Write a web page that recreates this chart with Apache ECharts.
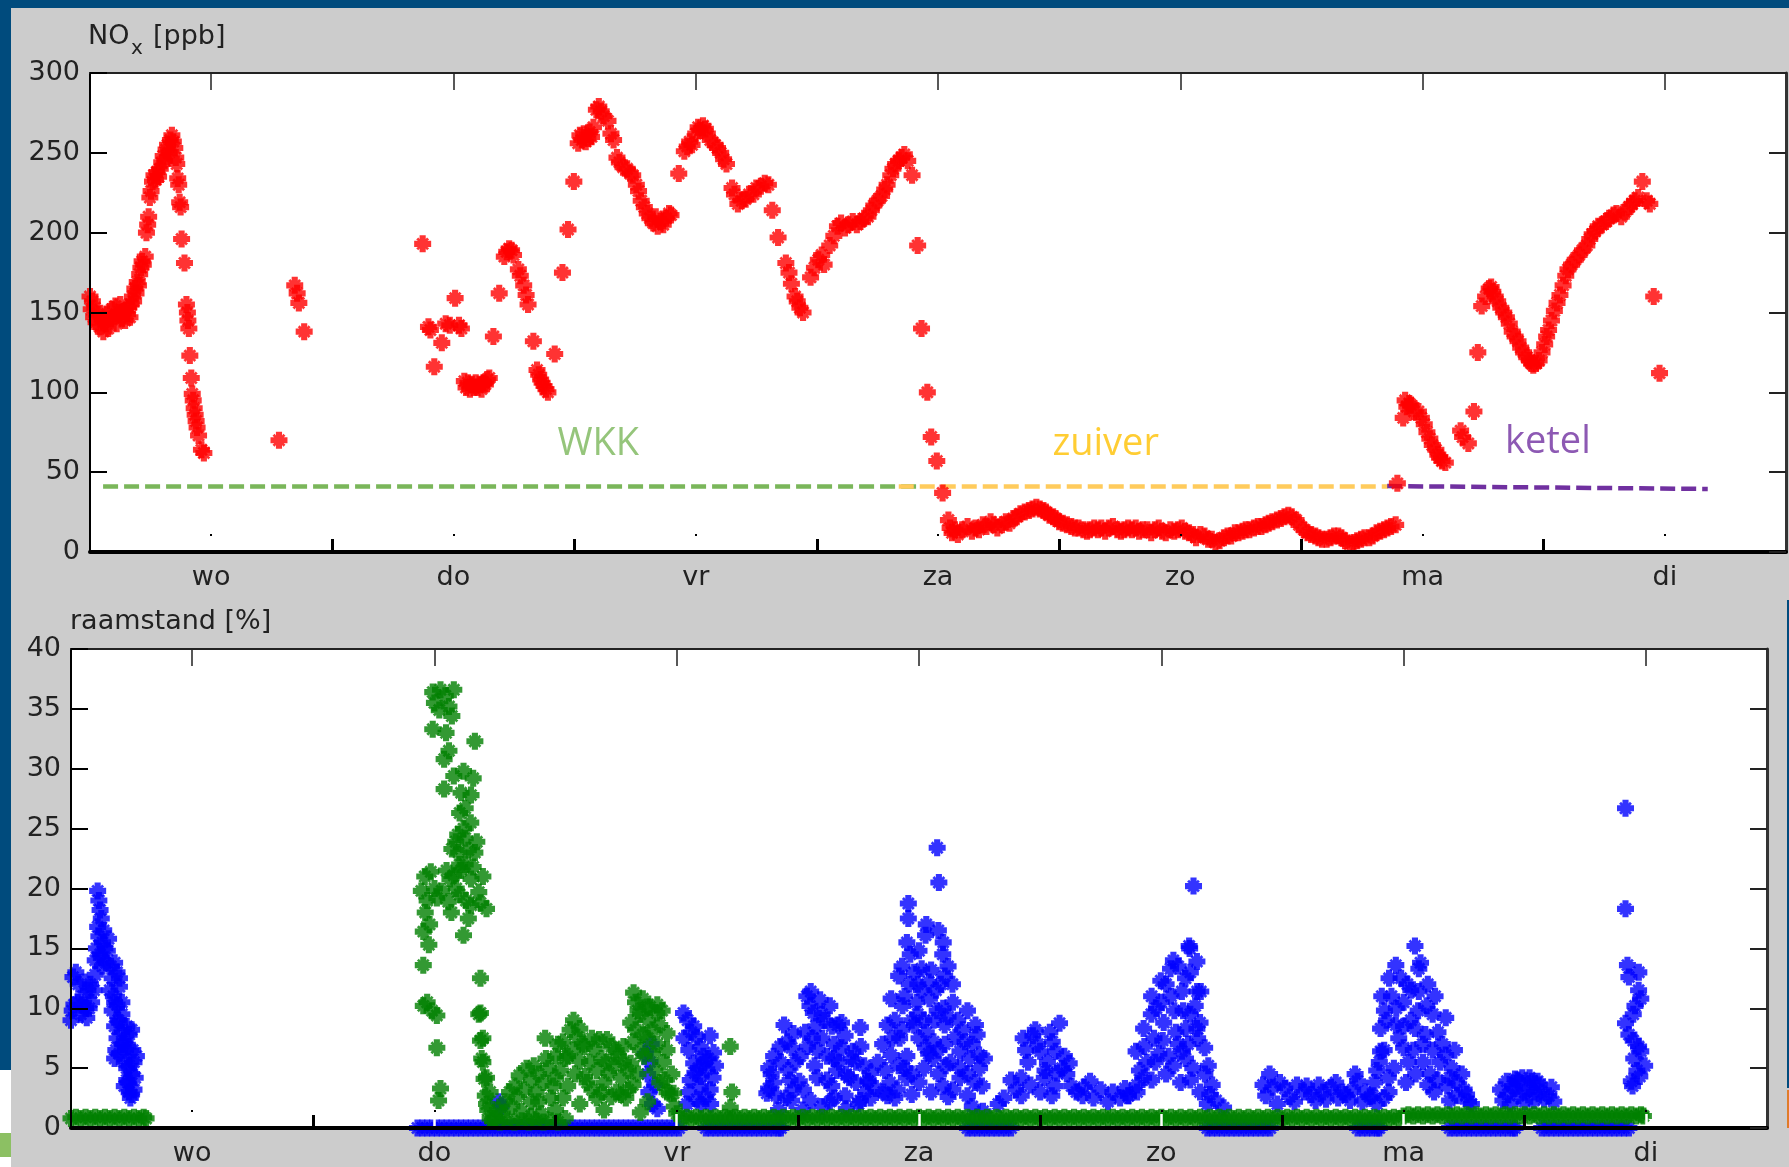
<!DOCTYPE html>
<html><head><meta charset="utf-8">
<script src="https://cdn.jsdelivr.net/npm/echarts@6/dist/echarts.min.js"></script>
<style>html,body{margin:0;padding:0;background:#cccccc}#c{width:1789px;height:1167px}</style>
</head><body><div id="c"></div>
<script>
// ---------- data ----------
const dayLabels = ['wo','do','vr','za','zo','ma','di'];
const dayLabelPos = [0.5,1.5,2.5,3.5,4.5,5.5,6.5];
const dayBounds = [1,2,3,4,5,6];
const noxTicks = [0,50,100,150,200,250,300];
const raamTicks = [0,5,10,15,20,25,30,35,40];

// NOx [ppb] vs day (0 = Wed 00:00)
const noxData = [
[0.0,160],[0.005,152],[0.01,157],[0.015,147],[0.02,153],[0.025,144],[0.035,149],[0.04,141],[0.05,146],[0.055,138],[0.065,143],[0.07,149],[0.075,140],[0.085,146],[0.09,152],[0.1,147],[0.105,154],[0.11,143],[0.12,150],[0.125,155],[0.13,146],[0.14,151],[0.145,145],[0.155,149],[0.16,153],[0.165,147],[0.17,155],[0.175,160],[0.18,157],[0.185,165],[0.19,162],[0.195,169],[0.2,167],[0.205,174],[0.21,178],[0.215,182],[0.22,180],[0.228,185],[0.233,200],[0.238,205],[0.242,210],[0.247,222],[0.252,226],[0.258,232],[0.264,236],[0.27,233],[0.276,238],[0.283,235],[0.29,240],[0.296,244],[0.302,248],[0.308,245],[0.314,252],[0.32,255],[0.326,250],[0.332,258],[0.338,261],[0.344,257],[0.35,253],[0.354,247],[0.358,243],[0.362,234],[0.366,230],[0.37,219],[0.374,216],[0.378,196],[0.39,181],[0.398,155],[0.402,150],[0.404,145],[0.408,140],[0.412,123],[0.418,109],[0.422,99],[0.426,95],[0.43,90],[0.434,86],[0.438,82],[0.442,78],[0.448,73],[0.46,64],[0.47,62],
[0.78,70],[0.845,167],[0.855,162],[0.862,156],[0.884,138],
[1.373,193],[1.397,141],[1.405,139],[1.421,116],[1.452,131],[1.468,143],[1.485,142],[1.507,159],[1.523,142],[1.533,140],[1.545,107],[1.552,103],[1.56,106],[1.568,102],[1.576,105],[1.584,103],[1.592,106],[1.6,103],[1.608,105],[1.616,102],[1.624,106],[1.632,105],[1.64,108],[1.648,109],[1.665,135],[1.689,162],[1.71,185],[1.72,188],[1.73,190],[1.74,189],[1.748,186],[1.768,177],[1.776,173],[1.79,167],[1.8,161],[1.808,155],[1.83,132],[1.845,114],[1.852,111],[1.86,108],[1.866,106],[1.874,104],[1.882,102],[1.89,100],[1.918,124],[1.95,175],[1.973,202],[1.997,232],[2.015,256],[2.022,261],[2.03,258],[2.038,262],[2.046,257],[2.055,259],[2.062,263],[2.07,260],[2.078,266],
[2.09,277],[2.1,279],[2.11,276],[2.12,273],[2.138,270],[2.15,262],[2.161,258],[2.175,247],[2.185,244],[2.2,241],[2.217,240],[2.23,237],[2.24,236],[2.255,230],[2.264,226],[2.275,220],[2.288,216],[2.3,212],[2.311,209],[2.325,206],[2.335,210],[2.343,204],[2.355,207],[2.366,205],[2.378,209],[2.39,212],[2.398,211],[2.43,237],[2.453,251],[2.465,254],[2.475,257],[2.485,255],[2.5,262],[2.51,266],[2.517,264],[2.53,267],[2.54,265],[2.548,262],[2.56,258],[2.58,255],[2.59,253],[2.603,250],[2.615,246],[2.627,243],[2.65,228],[2.66,224],[2.674,218],[2.69,220],[2.706,221],[2.72,224],[2.738,224],[2.75,228],[2.769,229],[2.785,231],[2.8,230],[2.816,214],[2.84,197],[2.872,181],[2.885,175],[2.895,168],[2.91,160],[2.919,157],[2.93,153],[2.943,150],[2.974,172],[2.99,178],[3.006,183],[3.02,186],[3.03,180],[3.053,192],[3.07,198],[3.085,204],[3.1,206],[3.116,203],[3.13,205],[3.148,207],[3.165,205],[3.18,207],[3.195,209],[3.211,210],[3.225,214],[3.235,217],[3.25,220],[3.267,223],[3.28,227],[3.29,230],[3.305,236],[3.314,240],[3.325,243],[3.338,245],[3.35,247],[3.361,249],[3.375,245],[3.393,236],[3.416,192],[3.432,140],[3.456,100],[3.472,72],[3.495,57],[3.519,37],[3.543,20],[3.55,15],[3.558,12],[3.57,14],[3.582,11],[3.6,14],[3.622,16],[3.64,13],[3.655,15],[3.669,14],[3.685,17],[3.7,16],[3.717,19],[3.73,17],[3.745,15],[3.764,17],[3.78,19],[3.795,18],[3.811,21],[3.825,22],[3.84,24],[3.858,25],[3.875,26],[3.89,27],[3.906,28],[3.92,27],[3.935,26],[3.945,25],[3.96,23],[3.975,22],[3.985,21],[4.0,19],[4.015,18],[4.032,17],[4.05,16],[4.065,15],[4.08,15],[4.1,14],[4.115,13],[4.127,14],[4.145,15],[4.16,14],[4.174,15],[4.19,13],[4.205,15],[4.222,16],[4.24,14],[4.255,13],[4.269,14],[4.285,15],[4.3,14],[4.316,15],[4.33,13],[4.345,14],[4.364,14],[4.38,12],[4.395,14],[4.411,15],[4.425,13],[4.44,12],[4.459,14],[4.475,13],[4.49,14],[4.506,15],[4.52,13],[4.536,12],[4.553,11],[4.565,9],[4.583,11],[4.6,10],[4.615,8],[4.63,8],[4.645,6],[4.662,7],[4.68,9],[4.695,10],[4.71,10],[4.725,12],[4.74,12],[4.757,13],[4.77,14],[4.785,14],[4.804,15],[4.82,16],[4.835,16],[4.852,17],[4.865,18],[4.88,19],[4.899,20],[4.915,21],[4.93,22],[4.946,23],[4.96,22],[4.978,20],[4.99,17],[5.01,14],[5.025,12],[5.04,11],[5.057,10],[5.07,9],[5.085,8],[5.104,8],[5.12,9],[5.135,10],[5.152,10],[5.165,9],[5.18,7],[5.199,5],[5.215,6],[5.23,7],[5.246,8],[5.26,9],[5.28,9],[5.294,10],[5.31,12],[5.325,13],[5.341,14],[5.355,15],[5.37,16],[5.389,17],
[5.396,43],[5.42,84],[5.428,95],[5.435,91],[5.445,93],[5.452,92],[5.465,88],[5.483,88],[5.495,84],[5.507,80],[5.518,75],[5.53,71],[5.54,67],[5.555,64],[5.563,61],[5.57,59],[5.58,57],[5.594,56],[5.657,76],[5.665,72],[5.689,68],[5.712,88],[5.728,125],[5.744,154],[5.76,160],[5.775,165],[5.783,166],[5.79,163],[5.8,160],[5.81,157],[5.823,153],[5.835,150],[5.846,147],[5.858,143],[5.87,138],[5.882,135],[5.894,132],[5.905,128],[5.917,125],[5.93,122],[5.941,120],[5.95,118],[5.957,117],[5.968,118],[5.981,120],[5.993,125],[6.004,130],[6.012,135],[6.02,139],[6.032,145],[6.044,151],[6.055,156],[6.067,161],[6.08,167],[6.091,173],[6.1,177],[6.115,180],[6.13,183],[6.146,186],[6.16,189],[6.178,192],[6.19,196],[6.2,199],[6.212,201],[6.225,204],[6.24,205],[6.257,207],[6.27,209],[6.288,211],[6.3,212],[6.32,210],[6.335,213],[6.352,216],[6.365,218],[6.375,220],[6.39,222],[6.407,232],[6.425,220],[6.438,218],[6.454,160],[6.478,112]
];

// raamstand [%] – blue series
const raamBlue = [
[0.0,9.0],[0.005,9.8],[0.012,10.3],[0.008,12.6],[0.02,13.0],[0.028,10.5],[0.04,9.5],[0.05,11.0],[0.06,10.0],[0.07,11.5],[0.08,12.0],[0.085,10.5],[0.065,9.2],
[0.03,12.0],[0.045,10.3],[0.055,12.2],[0.075,10.0],[0.095,11.5],[0.1,12.8],[0.115,16.0],[0.135,16.5],[0.155,15.8],[0.165,13.5],[0.175,11.0],[0.195,9.0],[0.21,10.5],[0.215,7.0],[0.225,6.5],[0.235,6.8],[0.23,5.0],[0.255,6.5],[0.265,4.2],[0.235,3.8],[0.21,9.5],
[0.11,19.8],[0.115,19.0],[0.12,18.2],[0.125,17.5],[0.11,16.8],[0.105,15.0],[0.12,14.5],[0.13,15.5],[0.14,15.0],[0.15,14.8],[0.145,13.8],[0.13,13.5],[0.125,14.2],[0.1,14.0],
[0.16,11.5],[0.17,12.5],[0.18,13.8],[0.19,13.0],[0.2,11.8],[0.18,10.5],[0.17,9.8],[0.19,10.3],[0.2,12.5],
[0.18,8.5],[0.19,7.5],[0.2,8.8],[0.21,8.0],[0.22,7.3],[0.23,8.5],[0.24,7.8],[0.25,8.2],[0.185,6.5],[0.18,5.8],[0.2,6.2],[0.22,5.5],[0.24,5.2],[0.25,4.5],[0.23,4.0],[0.22,3.5],[0.24,3.0],[0.245,2.5],[0.25,2.8],[0.26,3.2],[0.26,5.5],[0.27,6.0],
[1.43,0],[1.45,0],[1.47,0],[1.49,0],[1.51,0],[1.53,0],[1.55,0],[1.57,0],[1.59,0],[1.61,0],[1.63,0],[1.65,0],[1.67,0],[1.69,0],[1.71,0],[1.73,0],[1.75,0],[1.77,0],[1.79,0],[1.81,0],[1.83,0],[1.85,0],[1.87,0],[1.89,0],[1.91,0],[1.93,0],[1.95,0],[1.97,0],[1.99,0],[2.01,0],[2.03,0],[2.05,0],[2.07,0],[2.09,0],[2.11,0],[2.13,0],[2.15,0],[2.17,0],[2.19,0],[2.21,0],[2.23,0],[2.25,0],[2.27,0],[2.29,0],[2.31,0],[2.33,0],[2.35,0],[2.37,0],[2.39,0],[2.41,0],[2.43,0],[2.45,0],[2.47,0],[2.49,0],[2.51,0],
[2.62,0],[2.64,0],[2.66,0],[2.68,0],[2.7,0],[2.72,0],[2.74,0],[2.76,0],[2.78,0],[2.8,0],[2.82,0],[2.84,0],[2.86,0],[2.88,0],[2.9,0],[2.92,0],[2.93,0],
[3.7,0],[3.72,0],[3.74,0],[3.76,0],[3.78,0],[3.8,0],[3.82,0],[3.84,0],[3.86,0],[3.88,0],
[4.69,0],[4.71,0],[4.73,0],[4.75,0],[4.77,0],[4.79,0],[4.81,0],[4.83,0],[4.85,0],[4.87,0],[4.89,0],[4.91,0],[4.93,0],[4.95,0],
[5.31,0],[5.33,0],[5.35,0],[5.37,0],[5.39,0],[5.4,0],
[5.69,0],[5.71,0],[5.73,0],[5.75,0],[5.77,0],[5.79,0],[5.81,0],[5.83,0],[5.85,0],[5.87,0],[5.89,0],[5.91,0],[5.93,0],[5.95,0],[5.96,0],
[6.07,0],[6.09,0],[6.11,0],[6.13,0],[6.15,0],[6.17,0],[6.19,0],[6.21,0],[6.23,0],[6.25,0],[6.27,0],[6.29,0],[6.31,0],[6.33,0],[6.35,0],[6.37,0],[6.39,0],[6.41,0],[6.43,0],
[1.764,2.2],[1.775,1.8],
[2.37,6.2],[2.38,4.5],[2.385,3.0],[2.39,5.5],[2.4,2.0],[2.41,3.6],[2.42,1.6],[2.395,7.0],
[2.528,9.6],[2.545,9.0],[2.57,8.5],[2.585,7.6],[2.597,6.8],[2.61,6.0],[2.57,5.4],[2.556,4.0],[2.575,4.6],[2.597,3.5],[2.638,3.2],[2.624,4.9],[2.652,6.3],[2.638,7.7],[2.583,2.4],[2.542,2.0],[2.6,2.0],[2.62,2.6],[2.65,4.2],[2.615,5.5],
[2.53,7.5],[2.55,6.5],[2.56,8.0],[2.59,5.0],[2.63,5.8],[2.55,3.0],[2.6,4.3],[2.64,2.0],[2.66,5.2],
[2.872,2.9],[2.879,3.3],[2.911,2.7],[2.89,4.5],[2.9,6.0],[2.927,6.8],[2.943,8.6],[2.955,7.2],[2.968,4.0],[2.974,6.7],[2.982,7.9],[2.99,5.5],[3.006,3.9],[3.023,3.2],[3.037,11.0],[3.05,10.2],[3.053,11.4],[3.064,9.6],[3.069,5.2],[3.075,8.5],[3.092,10.7],[3.1,9.5],[3.1,7.5],[3.08,6.5],[3.12,4.0],[3.132,10.2],[3.14,8.5],[3.148,5.8],[3.15,7.0],[3.164,8.6],[3.17,5.5],[3.18,6.7],[3.195,7.7],[3.2,4.5],[3.211,4.2],[3.227,6.4],[3.24,5.5],[3.258,8.4],[3.274,5.2],[3.29,3.9],[3.322,3.3],[2.92,1.5],[2.95,2.5],[2.974,2.3],[3.02,1.5],[3.053,2.3],[3.1,1.8],[3.132,2.2],[3.15,2.5],[3.195,2.7],[3.2,1.6],[3.25,2.0],[3.258,2.3],[3.3,2.5],[3.369,2.7],
[2.88,5.0],[2.9,3.8],[2.93,5.5],[2.96,4.8],[2.98,3.2],[3.01,6.0],[3.03,8.0],[3.04,6.8],[3.06,7.5],[3.08,4.2],[3.11,9.0],[3.12,6.0],[3.14,3.5],[3.16,4.8],[3.18,8.8],[3.22,5.8],[3.24,3.8],[3.26,6.8],[3.28,3.0],[3.3,4.6],
[3.575,23.4],[3.582,20.5],[3.456,18.75],[3.456,17.5],[3.527,16.1],[3.464,14.5],[3.598,14.5],[3.416,12.7],[3.606,12.7],[3.495,12.0],[3.638,12.0],[3.385,10.8],[3.543,10.8],[3.7,9.8],[3.369,8.6],[3.48,8.6],[3.606,8.6],[3.733,8.6],[3.527,6.7],[3.606,7.0],[3.669,6.4],[3.748,6.1],[3.385,6.1],[3.416,5.2],[3.669,4.2],[3.7,2.7],[3.29,3.9],[3.353,3.0],[3.448,4.2],[3.559,5.8],[3.495,9.5],[3.575,9.8],[3.511,13.3],[3.432,10.2],
[3.44,11.0],[3.47,9.0],[3.5,7.5],[3.53,8.0],[3.56,7.2],[3.6,10.0],[3.62,9.3],[3.65,7.6],[3.68,8.2],[3.72,7.0],[3.75,5.0],[3.76,3.5],[3.42,7.5],[3.4,9.0],[3.45,6.0],[3.52,5.0],[3.58,4.5],[3.63,5.5],[3.7,4.5],[3.36,4.8],[3.33,5.5],[3.55,13.2],[3.5,14.8],[3.48,13.0],[3.62,13.5],[3.57,11.5],[3.4,2.5],[3.47,2.8],[3.55,3.0],[3.62,2.6],[3.72,1.8],
[3.35,7.0],[3.38,3.8],[3.39,7.5],[3.41,3.2],[3.43,8.2],[3.44,5.0],[3.46,12.0],[3.47,4.5],[3.49,10.5],[3.5,3.8],[3.51,11.5],[3.52,9.0],[3.54,6.2],[3.54,12.2],[3.56,9.0],[3.58,6.5],[3.59,12.0],[3.6,3.5],[3.61,5.2],[3.64,10.5],[3.64,3.2],[3.66,9.0],[3.67,5.0],[3.69,7.2],[3.71,5.8],[3.73,3.8],[3.74,7.8],[3.77,5.8],[3.45,15.5],[3.53,17.0],[3.6,15.5],[3.43,13.5],[3.58,16.5],
[3.97,7.7],[4.08,8.75],[4.0,6.4],[4.064,6.4],[3.922,4.2],[4.017,4.2],[4.11,4.5],[3.922,2.7],[4.048,2.7],[4.206,3.9],[4.175,2.7],[4.3,3.0],[4.364,2.7],[3.827,2.0],[3.764,1.4],
[3.95,5.5],[4.03,5.5],[4.1,6.0],[4.13,3.5],[4.0,3.0],[4.06,3.5],[3.9,3.2],[3.85,2.5],[4.22,2.5],[4.25,3.2],[4.33,2.5],[4.4,3.0],[3.98,8.2],[4.05,7.2],[4.09,5.0],[3.94,6.5],
[3.88,4.0],[3.93,7.5],[3.96,3.6],[3.99,7.0],[4.02,4.8],[4.04,8.0],[4.07,4.6],[4.12,5.4],[4.15,3.0],[4.18,3.4],[4.28,2.2],[4.35,3.3],
[4.633,20.2],[4.617,15.0],[4.538,13.3],[4.498,12.3],[4.585,11.4],[4.459,9.5],[4.554,9.8],[4.427,8.3],[4.506,7.3],[4.601,8.3],[4.396,6.4],[4.475,5.5],[4.585,6.4],[4.427,4.2],[4.364,2.7],[4.648,11.4],[4.615,15.2],[4.647,13.9],[4.663,11.4],[4.647,8.3],[4.679,6.7],[4.694,5.2],[4.71,3.6],[4.726,2.3],[4.757,1.7],
[4.5,10.5],[4.56,8.0],[4.53,6.0],[4.6,5.8],[4.62,9.5],[4.65,7.5],[4.47,7.5],[4.44,5.5],[4.41,4.8],[4.52,4.5],[4.58,3.8],[4.62,4.0],[4.66,3.0],[4.69,2.0],[4.6,12.5],[4.57,13.5],[4.52,12.0],[4.48,10.0],
[4.4,3.6],[4.43,6.8],[4.46,4.0],[4.46,11.0],[4.49,6.2],[4.51,8.8],[4.54,11.0],[4.55,5.2],[4.57,7.0],[4.59,9.8],[4.61,7.0],[4.63,5.0],[4.64,10.2],[4.66,8.8],[4.68,4.5],[4.7,2.8],[4.55,14.0],[4.62,13.0],
[4.947,4.5],[4.931,2.7],[5.01,3.3],[5.089,3.0],[5.168,3.0],[5.247,3.0],[5.31,3.9],[5.342,3.0],[4.979,2.0],[5.137,2.3],[5.279,2.3],
[4.96,3.4],[5.03,2.6],[5.06,3.6],[5.12,2.8],[5.2,3.4],[5.23,2.5],[5.29,3.2],[5.36,2.6],
[4.92,3.6],[4.99,3.8],[5.05,2.2],[5.1,3.5],[5.15,3.6],[5.18,2.4],[5.22,3.8],[5.26,2.8],[5.33,2.2],[5.3,4.5],
[5.547,15.2],[5.468,13.6],[5.563,13.3],[5.516,12.0],[5.421,9.8],[5.5,10.5],[5.595,10.2],[5.674,9.2],[5.405,8.3],[5.547,8.3],[5.642,8.0],[5.405,6.4],[5.5,6.7],[5.579,7.0],[5.674,6.1],[5.389,4.8],[5.437,4.2],[5.61,4.5],[5.69,4.2],[5.373,2.7],[5.626,3.0],[5.72,2.7],[5.768,2.2],[5.69,2.3],[5.468,8.6],[5.563,11.4],
[5.45,11.0],[5.53,9.0],[5.48,7.5],[5.52,5.5],[5.58,5.5],[5.62,9.5],[5.65,5.5],[5.7,5.0],[5.6,12.0],[5.42,6.5],[5.38,3.8],[5.44,3.0],[5.72,3.8],[5.75,3.2],[5.78,2.0],
[5.4,5.5],[5.41,11.0],[5.43,9.0],[5.44,12.5],[5.46,5.0],[5.47,10.0],[5.49,12.5],[5.5,8.5],[5.51,3.8],[5.53,11.5],[5.54,6.5],[5.55,4.5],[5.56,9.8],[5.57,13.8],[5.59,7.8],[5.6,3.6],[5.62,6.5],[5.63,11.0],[5.64,4.0],[5.66,7.0],[5.68,3.5],[5.71,6.5],[5.74,4.5],[5.76,2.8],[5.39,2.0],[5.42,2.5],
[5.926,3.9],[5.99,4.2],[6.053,3.9],[6.1,2.7],[5.91,2.3],[5.974,2.7],[6.037,2.3],[5.958,3.3],[6.02,3.3],
[5.94,2.0],[6.0,2.2],[6.07,3.0],[6.12,2.2],[5.96,4.1],[6.03,3.9],
[5.9,3.2],[5.93,2.8],[5.95,3.5],[5.97,4.0],[6.0,3.0],[6.02,4.2],[6.04,3.0],[6.06,3.6],[6.08,2.4],[6.11,3.4],
[6.416,26.7],[6.416,18.3],[6.424,13.6],[6.471,13.0],[6.479,10.8],[6.448,9.5],[6.416,8.75],[6.448,7.3],[6.479,6.4],[6.463,4.8],[6.44,3.9],[6.495,5.2],
[6.43,12.6],[6.47,11.5],[6.455,10.2],[6.43,7.8],[6.47,6.8],[6.45,5.8],[6.475,4.3],[6.445,3.5]
];

// raamstand [%] – green series
const raamGreen = [
[0.0,0.8],[0.02,0.9],[0.04,0.8],[0.06,0.9],[0.08,0.8],[0.1,0.9],[0.12,0.8],[0.14,0.9],[0.16,0.8],[0.18,0.9],[0.2,0.8],[0.22,0.9],[0.24,0.8],[0.26,0.9],[0.28,0.8],[0.3,0.9],[0.31,0.8],
[1.493,36.4],[1.525,36.6],[1.545,36.1],[1.58,36.6],[1.572,34.4],[1.493,33.3],[1.548,33.0],[1.667,32.3],[1.54,30.8],[1.58,29.4],[1.54,28.3],[1.66,29.2],[1.651,27.8],[1.604,26.3],[1.596,24.5],[1.627,24.2],[1.667,23.0],[1.572,23.3],[1.604,22.0],[1.485,21.4],[1.564,20.8],[1.446,19.8],[1.51,19.2],[1.604,19.5],[1.683,19.7],[1.715,18.3],[1.462,18.0],[1.651,18.6],[1.454,16.4],[1.62,16.1],[1.477,15.3],[1.454,13.6],[1.69,12.5],[1.454,10.2],[1.51,9.4],[1.683,9.5],[1.51,6.7],[1.69,7.3],[1.7,5.5],[1.525,3.3],[1.517,2.3],[1.715,4.2],[1.73,3.0],[1.715,2.0],
[1.588,23.9],[1.627,22.0],[1.557,18.9],[1.651,20.8],[1.58,21.1],[1.675,23.9],[1.62,25.0],[1.627,26.7],[1.47,10.5],[1.49,9.8],
[1.46,21.0],[1.5,20.0],[1.53,19.8],[1.55,21.5],[1.57,18.0],[1.59,20.0],[1.61,21.5],[1.63,19.0],[1.64,23.2],[1.66,21.8],[1.6,23.0],[1.65,25.5],[1.61,28.0],[1.56,35.2],[1.52,34.9],[1.5,35.5],[1.48,17.0],[1.47,19.0],[1.64,17.5],[1.69,18.8],[1.7,21.0],[1.62,29.8],[1.56,31.5],
[1.69,9.6],[1.70,7.5],[1.695,5.8],[1.705,4.1],[1.71,2.7],[1.72,1.5],[1.73,0.8],
[1.74,0.6],[1.77,0.5],[1.8,0.6],[1.83,0.5],[1.86,0.6],[1.89,0.5],[1.92,0.6],[1.95,0.5],[1.98,0.6],[2.01,0.5],[2.04,0.8],
[1.75,0.8],[1.78,1.2],[1.82,1.8],[1.84,2.6],[1.86,1.4],[1.87,3.2],[1.9,2.2],[1.9,4.0],[1.92,3.0],[1.93,4.5],[1.94,1.2],[1.95,3.8],[1.957,7.5],[1.97,5.0],[1.98,2.5],[2.0,4.2],[2.0,6.0],[2.02,4.8],[2.03,7.2],[2.04,5.8],[2.05,3.5],[2.06,8.2],[2.07,6.5],[2.074,9.0],[2.09,7.6],[2.1,8.3],[2.1,5.6],[2.12,6.8],[2.12,4.3],[2.14,5.5],[2.15,3.2],[2.16,6.6],[2.17,4.8],[2.18,7.4],[2.19,5.8],[2.2,3.8],[2.212,7.4],[2.22,4.6],[2.23,6.8],[2.24,5.2],[2.25,3.0],[2.26,6.0],[2.27,4.2],[2.28,5.5],[2.29,2.5],[2.3,4.8],[2.31,5.4],[2.32,3.6],[2.33,8.2],[2.33,10.5],[2.322,11.3],[2.35,9.5],[2.36,7.8],[2.365,6.0],[2.377,10.1],[2.38,9.0],[2.39,10.1],[2.4,8.2],[2.418,9.6],[2.42,7.0],[2.43,8.6],[2.46,7.9],[2.445,5.5],[2.45,4.0],[2.46,6.5],[2.47,2.9],[2.487,2.9],[2.49,1.8],[2.5,1.2],[2.35,1.3],[2.38,2.2],[2.2,1.5],[2.1,2.0],[2.0,1.5],[1.9,1.0],
[1.76,1.5],[1.79,2.2],[1.81,3.0],[1.83,3.5],[1.85,4.4],[1.88,5.0],[1.91,5.2],[1.93,2.2],[1.96,5.8],[1.99,3.5],[2.01,7.0],[2.03,2.5],[2.05,6.0],[2.08,4.5],[2.11,7.0],[2.13,3.8],[2.15,7.5],[2.17,2.5],[2.19,3.0],[2.21,5.5],[2.23,2.6],[2.25,6.5],[2.27,2.8],[2.28,6.8],[2.3,3.2],[2.32,7.2],[2.34,4.5],[2.35,6.5],[2.36,10.8],[2.38,7.5],[2.4,6.2],[2.41,4.8],[2.43,3.8],[2.44,9.8],[2.42,10.3],[2.46,3.0],[2.48,4.5],[2.31,8.8],[2.34,9.8],
[2.721,6.8],[2.728,3.0],[2.721,1.7],
[2.52,0.8],[2.54,0.9],[2.56,0.8],[2.58,0.9],[2.6,0.8],[2.62,0.9],[2.64,0.8],[2.66,0.9],[2.68,0.8],[2.7,0.9],[2.72,0.8],[2.74,0.9],[2.76,0.8],[2.78,0.9],[2.8,0.8],[2.82,0.9],[2.84,0.8],[2.86,0.9],[2.88,0.8],[2.9,0.9],[2.92,0.8],[2.94,0.9],[2.96,0.8],[2.98,0.9],
[3.0,0.8],[3.02,0.9],[3.04,0.8],[3.06,0.9],[3.08,0.8],[3.1,0.9],[3.12,0.8],[3.14,0.9],[3.16,0.8],[3.18,0.9],[3.2,0.8],[3.22,0.9],[3.24,0.8],[3.26,0.9],[3.28,0.8],[3.3,0.9],[3.32,0.8],[3.34,0.9],[3.36,0.8],[3.38,0.9],[3.4,0.8],[3.42,0.9],[3.44,0.8],[3.46,0.9],[3.48,0.8],[3.5,0.9],[3.52,0.8],[3.54,0.9],[3.56,0.8],[3.58,0.9],[3.6,0.8],[3.62,0.9],[3.64,0.8],[3.66,0.9],[3.68,0.8],[3.7,0.9],[3.72,0.8],[3.74,0.9],[3.76,0.8],[3.78,0.9],[3.8,0.8],[3.82,0.9],[3.84,0.8],[3.86,0.9],[3.88,0.8],[3.9,0.9],[3.92,0.8],[3.94,0.9],[3.96,0.8],[3.98,0.9],
[4.0,0.8],[4.02,0.9],[4.04,0.8],[4.06,0.9],[4.08,0.8],[4.1,0.9],[4.12,0.8],[4.14,0.9],[4.16,0.8],[4.18,0.9],[4.2,0.8],[4.22,0.9],[4.24,0.8],[4.26,0.9],[4.28,0.8],[4.3,0.9],[4.32,0.8],[4.34,0.9],[4.36,0.8],[4.38,0.9],[4.4,0.8],[4.42,0.9],[4.44,0.8],[4.46,0.9],[4.48,0.8],[4.5,0.9],[4.52,0.8],[4.54,0.9],[4.56,0.8],[4.58,0.9],[4.6,0.8],[4.62,0.9],[4.64,0.8],[4.66,0.9],[4.68,0.8],[4.7,0.9],[4.72,0.8],[4.74,0.9],[4.76,0.8],[4.78,0.9],[4.8,0.8],[4.82,0.9],[4.84,0.8],[4.86,0.9],[4.88,0.8],[4.9,0.9],[4.92,0.8],[4.94,0.9],[4.96,0.8],[4.98,0.9],
[5.0,0.8],[5.02,0.9],[5.04,0.8],[5.06,0.9],[5.08,0.8],[5.1,0.9],[5.12,0.8],[5.14,0.9],[5.16,0.8],[5.18,0.9],[5.2,0.8],[5.22,0.9],[5.24,0.8],[5.26,0.9],[5.28,0.8],[5.3,0.9],[5.32,0.8],[5.34,0.9],[5.36,0.8],[5.38,0.9],[5.4,0.8],[5.42,0.9],[5.44,0.8],[5.46,0.9],[5.48,0.8],
[5.5,1.0],[5.52,1.1],[5.54,1.0],[5.56,1.1],[5.58,1.0],[5.6,1.1],[5.62,1.0],[5.64,1.1],[5.66,1.0],[5.68,1.1],[5.7,1.0],[5.72,1.1],[5.74,1.0],[5.76,1.1],[5.78,1.0],[5.8,1.1],[5.82,1.0],[5.84,1.1],[5.86,1.0],[5.88,1.1],[5.9,1.0],[5.92,1.1],[5.94,1.0],[5.96,1.1],[5.98,1.0],
[6.0,1.1],[6.02,1.0],[6.04,1.1],[6.06,1.0],[6.08,1.1],[6.1,1.0],[6.12,1.1],[6.14,1.0],[6.16,1.1],[6.18,1.0],[6.2,1.1],[6.22,1.0],[6.24,1.1],[6.26,1.0],[6.28,1.1],[6.3,1.0],[6.32,1.1],[6.34,1.0],[6.36,1.1],[6.38,1.0],[6.4,1.1],[6.42,1.0],[6.44,1.1],[6.46,1.0],[6.48,1.1],[6.49,1.0]
];

// phase reference lines (ppb) and their labels
const wkkLine = [[0.054,41],[3.416,41]];
const zuiverLine = [[3.338,41],[5.358,41]];
const ketelLine = [[5.354,41.3],[6.677,39.5]];
const phaseNames = ['WKK','zuiver','ketel'];
const phaseLabelAt = [[2.098,67.5],[4.192,67.5],[6.017,68.5]];

// ---------- chart ----------
const FONT = 'DejaVu Sans';
// bold asterisk marker: one simple outline (plus with diagonal nubs)
const STAR = 'path://M3.2,0L6.8,0L6.8,2.2L7.6,1.2L8.8,2.4L7.8,3.2L10,3.2L10,6.8L7.8,6.8L8.8,7.6L7.6,8.8L6.8,7.8L6.8,10L3.2,10L3.2,7.8L2.4,8.8L1.2,7.6L2.2,6.8L0,6.8L0,3.2L2.2,3.2L1.2,2.4L2.4,1.2L3.2,2.2Z';
const phaseColors = ['#7ab65a','#ffc000','#7030a0'];
const lineColors = ['#7ab65a','#ffcb5c','#7030a0'];
const MS = 17;

function xAxesFor(g, whiteTicks) {
  const base = {gridIndex:g, type:'value', min:0, max:7, interval:0.5, splitLine:{show:false}};
  const arr = [
    Object.assign({}, base, {position:'bottom', z:12,
      axisLine:{show:true, onZero:false, lineStyle:{color:'#000', width:4}},
      axisTick:{show:true, inside:true, length:13, customValues:dayBounds, lineStyle:{color:'#000', width:3}},
      axisLabel:{show:true, customValues:dayLabelPos, formatter:v=>dayLabels[Math.floor(v)], fontSize:27, fontFamily:FONT, color:'#222', margin:12}}),
    Object.assign({}, base, {position:'top', z:12,
      axisLine:{show:true, onZero:false, lineStyle:{color:'#222', width:2}},
      axisTick:{show:true, inside:true, length:17, customValues:dayLabelPos, lineStyle:{color:'#222', width:1.5}},
      axisLabel:{show:false}}),
    // small dot at the end of the hidden half-day tick
    Object.assign({}, base, {position:'bottom', offset:-16, z:12,
      axisLine:{show:false, onZero:false},
      axisTick:{show:true, inside:true, length:2, customValues:dayLabelPos, lineStyle:{color:'#000', width:2}},
      axisLabel:{show:false}})
  ];
  if (whiteTicks) arr.push(Object.assign({}, base, {position:'bottom', offset:0, z:11,
      axisLine:{show:false, onZero:false},
      axisTick:{show:true, inside:true, length:14, customValues:dayLabelPos, lineStyle:{color:'#fff', width:2.5}},
      axisLabel:{show:false}}));
  return arr;
}
function yAxesFor(g, ticks) {
  const base = {gridIndex:g, type:'value', min:ticks[0], max:ticks[ticks.length-1], interval:ticks[1]-ticks[0], splitLine:{show:false}};
  return [
    Object.assign({}, base, {position:'left', z:12,
      axisLine:{show:true, onZero:false, lineStyle:{color:'#000', width:2}},
      axisTick:{show:true, inside:true, length:17, lineStyle:{color:'#000', width:2}},
      axisLabel:{show:true, fontSize:27, fontFamily:FONT, color:'#222', margin:10}}),
    Object.assign({}, base, {position:'right', z:12,
      axisLine:{show:true, onZero:false, lineStyle:{color:'#333', width:3}},
      axisTick:{show:true, inside:true, length:17, lineStyle:{color:'#222', width:2}},
      axisLabel:{show:false}})
  ];
}

const xTop = xAxesFor(0,false), xBot = xAxesFor(1,true);
const xAxis = xTop.concat(xBot);
const yTop = yAxesFor(0,noxTicks), yBot = yAxesFor(1,raamTicks);
const yAxis = yTop.concat(yBot);
const X2 = xTop.length, Y2 = yTop.length; // first axes of the lower grid

const series = [];
[wkkLine, zuiverLine, ketelLine].forEach((d,i)=>{
  series.push({type:'line', xAxisIndex:0, yAxisIndex:0, data:d, symbol:'none', silent:true, z:1,
    lineStyle:{color:lineColors[i], width:4.5, type:[15,6]}});
});
series.push({type:'scatter', xAxisIndex:0, yAxisIndex:0, data:noxData, symbol:STAR, symbolSize:MS,
  itemStyle:{color:'#ff0000'}, clip:false, z:2, large:false});
phaseNames.forEach((n,i)=>{
  series.push({type:'scatter', xAxisIndex:0, yAxisIndex:0, data:[phaseLabelAt[i]], symbolSize:1,
    itemStyle:{color:'transparent'}, silent:true, z:3,
    label:{show:true, position:'inside', formatter:n, fontSize:38, fontFamily:'Open Sans', color:phaseColors[i]}});
});
series.push({type:'scatter', xAxisIndex:X2, yAxisIndex:Y2, data:raamBlue, symbol:STAR, symbolSize:MS,
  itemStyle:{color:'#0000ff'}, clip:false, z:2, large:false});
series.push({type:'scatter', xAxisIndex:X2, yAxisIndex:Y2, data:raamGreen, symbol:STAR, symbolSize:MS,
  itemStyle:{color:'#008000'}, clip:false, z:2, large:false});

const txt = (text, x, y, size) => ({type:'text', x:x, y:y, z:100,
  style:{text:text, fontSize:size, fontFamily:FONT, fill:'#222', verticalAlign:'middle', textVerticalAlign:'middle'}});

const option = {
  animation:false,
  backgroundColor:'#cccccc',
  grid:[
    {left:90, top:73, width:1696, height:479, show:true, backgroundColor:'#ffffff', borderWidth:0},
    {left:71, top:649, width:1696, height:479, show:true, backgroundColor:'#ffffff', borderWidth:0}
  ],
  xAxis:xAxis, yAxis:yAxis, series:series,
  graphic:{elements:[
    {type:'rect', shape:{x:0,y:0,width:1789,height:8}, style:{fill:'#004b7d'}, z:50},
    {type:'rect', shape:{x:0,y:0,width:11,height:1070}, style:{fill:'#004b7d'}, z:50},
    {type:'rect', shape:{x:0,y:1070,width:11,height:97}, style:{fill:'#ffffff'}, z:50},
    {type:'rect', shape:{x:0,y:1133,width:11,height:24}, style:{fill:'#8cc063'}, z:51},
    {type:'rect', shape:{x:1787,y:600,width:2,height:488}, style:{fill:'#004b7d'}, z:50},
    {type:'rect', shape:{x:1787,y:1090,width:2,height:38}, style:{fill:'#e07b28'}, z:50},
    txt('NO', 88, 37, 27),
    txt('x', 131, 49, 20),
    txt('[ppb]', 153, 37, 27),
    txt('raamstand [%]', 70, 622, 27)
  ]}
};
const chart = echarts.init(document.getElementById('c'), null, {renderer:'canvas'});
chart.setOption(option);
</script></body></html>
